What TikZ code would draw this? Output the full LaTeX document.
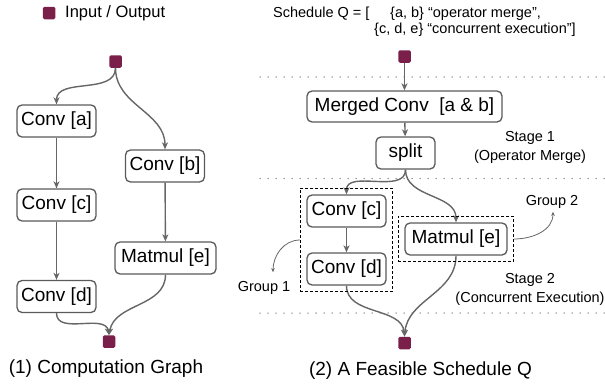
\documentclass[tikz,border=0pt]{standalone}
\usepackage{fontspec}
\setmainfont{Liberation Sans}
\usetikzlibrary{arrows.meta,fit}

\definecolor{iored}{HTML}{7A1E4A}
\definecolor{edgegray}{HTML}{666666}
\definecolor{boxgray}{HTML}{5A5A5A}

\begin{document}
\begin{tikzpicture}[x=1pt,y=-1pt,>={Stealth[length=7pt,width=6pt,inset=2pt]},
    op/.style={draw=boxgray,line width=1.3pt,rounded corners=5pt,fill=white,
               minimum height=32pt,inner sep=0pt,font=\fontsize{19}{22}\selectfont},
    io/.style={fill=iored,rounded corners=1.5pt,minimum size=12.5pt,inner sep=0pt},
    flow/.style={->,draw=edgegray,line width=1.4pt},
    pointer/.style={-{Stealth[length=4pt,width=3.5pt]},draw=edgegray,line width=0.8pt},
    group/.style={draw,line width=0.8pt,inner sep=6pt,dash pattern=on 3pt off 2pt},
    note/.style={inner sep=0pt,font=\fontsize{14.5}{19}\selectfont,align=center},
    caption/.style={inner sep=0pt,font=\fontsize{19}{22}\selectfont},
    stagesep/.style={draw=gray,line width=1.5pt,line cap=round,dash pattern=on 0pt off 8pt}]
    \useasboundingbox (0,0) rectangle (605,388);

    % legend
    \node[io] (key) at (49,13) {};
    \node[anchor=west,inner sep=0pt,font=\fontsize{16.5}{20}\selectfont] (keytext) at (65,13) {Input / Output};

    % (1) the computation graph
    \node[io] (in1) at (115.5,61.5) {};
    \node[op,minimum width=79pt] (a) at (56.5,121) {Conv [a]};
    \node[op,minimum width=79pt] (b) at (165,166) {Conv [b]};
    \node[op,minimum width=79pt] (c) at (56.5,205) {Conv [c]};
    \node[op,minimum width=79pt] (d) at (56.5,296.5) {Conv [d]};
    \node[op,minimum width=101pt] (e) at (165.5,258) {Matmul [e]};
    \node[io] (out1) at (109,341.5) {};

    \draw[flow] (in1.south) to[out=-90,in=90] (a.north);
    \draw[flow] (in1.south) to[out=-90,in=90] (b.north);
    \draw[flow] (a) -- (c);
    \draw[flow] (c) -- (d);
    \draw[flow] (b) -- (e);
    \draw[flow] (d.south) to[out=-90,in=100] (out1.north);
    \draw[flow] (e.south) to[out=-90,in=80] (out1.north);

    \node[caption] (cap1) at (106,369) {(1) Computation Graph};

    % (2) the schedule
    \node[note,anchor=base west] (sched) at (273,17) {Schedule Q = [};
    \node[note,anchor=base west] (qab) at (390,17) {\{a, b\} “operator merge”,};
    \node[note,anchor=base west] (qcde) at (374,33) {\{c, d, e\} “concurrent execution”]};

    % stage borders
    \foreach \y in {77,178.5,313}
        \draw[stagesep] (260,\y) -- (605,\y);

    \node[io] (in2) at (404.5,56.5) {};
    \node[op,minimum width=195pt,minimum height=31pt] (ab) at (404.5,106.5) {Merged Conv\ \ [a \& b]};
    \node[op,minimum width=59pt] (split) at (405.5,153) {split};
    \node[op,minimum width=79pt] (c2) at (346.5,211) {Conv [c]};
    \node[op,minimum width=79pt] (d2) at (346.5,269) {Conv [d]};
    \node[op,minimum width=102pt] (e2) at (456,239) {Matmul [e]};
    \node[io] (out2) at (404.5,343) {};

    \draw[flow] (in2) -- (ab);
    \draw[flow] (ab) -- (split);
    \draw[flow] (split.south) to[out=-90,in=90] (c2.north);
    \draw[flow] (split.south) to[out=-90,in=90] (e2.north);
    \draw[flow] (c2) -- (d2);
    \draw[flow] (d2.south) to[out=-90,in=95] (out2.north);
    \draw[flow] (e2.south) to[out=-90,in=85] (out2.north);

    % groups
    \node[group,fit=(c2)(d2)] (g1) {};
    \node[group,fit=(e2)] (g2) {};
    \node[note] (g1text) at (264,288) {Group 1};
    \node[note] (g2text) at (552,202) {Group 2};
    \draw[pointer] (g1.west) to[out=180,in=90] ([xshift=9pt,yshift=9pt]g1text.north);
    \draw[pointer] (g2.east) to[out=0,in=-90] ([xshift=1pt,yshift=-3pt]g2text.south);

    % stages
    \node[note] (st1) at (530,147.5) {Stage 1\\(Operator Merge)};
    \node[note] (st2) at (530,289) {Stage 2\\(Concurrent Execution)};

    \node[caption] (cap2) at (420.5,371) {(2) A Feasible Schedule Q};
\end{tikzpicture}
\end{document}
